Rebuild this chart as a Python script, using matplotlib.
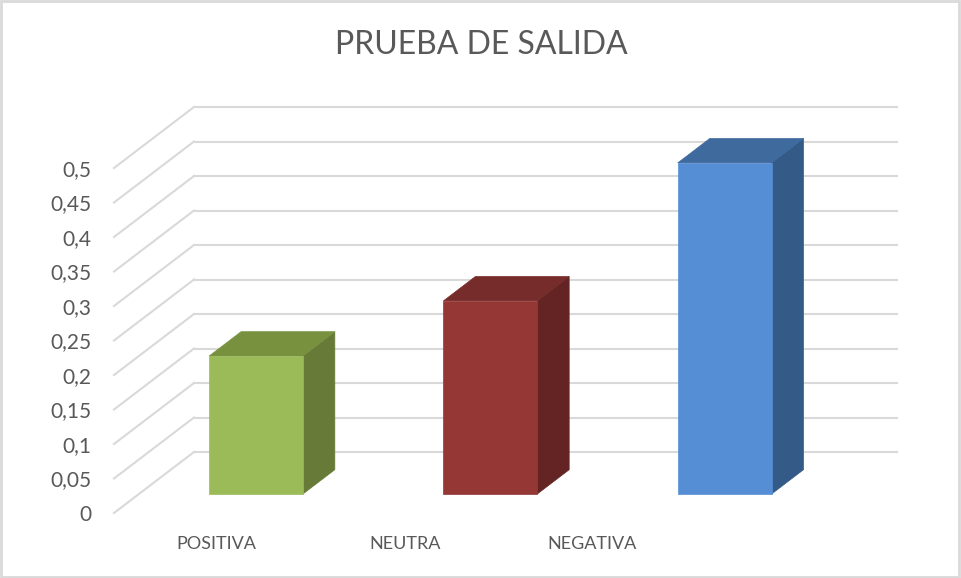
import matplotlib
matplotlib.use("Agg")
import matplotlib.pyplot as plt
from matplotlib.transforms import ScaledTranslation
from matplotlib.patches import Polygon, Rectangle

plt.rcParams['font.family'] = ['Lato', 'DejaVu Sans']

# datos
categorias = ["POSITIVA", "NEUTRA", "NEGATIVA"]
valores = [0.2, 0.28, 0.48]
ticks = [0, 0.05, 0.1, 0.15, 0.2, 0.25, 0.3, 0.35, 0.4, 0.45, 0.5]
tick_labels = ["0", "0,05", "0,1", "0,15", "0,2", "0,25", "0,3", "0,35", "0,4", "0,45", "0,5"]

# colores (frente, arriba, lado)
colores = [
    ("#9BBB59", "#77913F", "#677A37"),
    ("#953735", "#762C2A", "#632423"),
    ("#558ED5", "#3F6A9E", "#345A88"),
]
grid_color = "#D9D9D9"
text_color = "#595959"

W, H, DPI = 961, 578, 100
fig = plt.figure(figsize=(W / DPI, H / DPI), dpi=DPI)

# plano frontal del piso (pixeles)
x0, x1 = 114, 817
y0, y1 = 513, 168
ax = fig.add_axes([x0 / W, (H - y0) / H, (x1 - x0) / W, (y0 - y1) / H])
ax.set_xlim(-0.5, 2.5)
ax.set_ylim(0, 0.5)
ax.set_frame_on(False)

# profundidad total del grafico (pulgadas)
DX, DY = 80 / DPI, 61 / DPI


def depth(f):
    return ax.transData + ScaledTranslation(DX * f, DY * f, fig.dpi_scale_trans)


# lineas de cuadricula: pared lateral + pared del fondo
for t in ticks:
    # linea diagonal (pared lateral)
    p_front = ax.transData.transform((-0.5, t))
    p_back = depth(1.0).transform((-0.5, t))
    fig.add_artist(plt.Line2D([p_front[0] / W, p_back[0] / W], [p_front[1] / H, p_back[1] / H],
                              color=grid_color, lw=1.5))
    ax.plot([-0.5, 2.5], [t, t], color=grid_color, lw=1.5, clip_on=False,
            transform=depth(1.0))

# barras 3D
ancho = 0.4
f0, f1 = 0.31, 0.71
for i, v in enumerate(valores):
    frente, arriba, lado = colores[i]
    xl, xr = i - ancho / 2, i + ancho / 2
    # lado derecho
    pr0 = depth(f0).transform([(xr, 0), (xr, v)])
    pr1 = depth(f1).transform([(xr, v), (xr, 0)])
    pts = [fig.transFigure.inverted().transform(p) for p in list(pr0) + list(pr1)]
    fig.add_artist(Polygon(pts, closed=True, facecolor=lado, edgecolor=lado, lw=0.5))
    # tapa superior
    pt0 = depth(f0).transform([(xl, v), (xr, v)])
    pt1 = depth(f1).transform([(xr, v), (xl, v)])
    pts = [fig.transFigure.inverted().transform(p) for p in list(pt0) + list(pt1)]
    fig.add_artist(Polygon(pts, closed=True, facecolor=arriba, edgecolor=arriba, lw=0.5))
    # cara frontal
    fig.add_artist(Rectangle((xl, 0), ancho, v, transform=depth(f0),
                             facecolor=frente, edgecolor=frente, lw=0.5))

# eje y
ax.set_yticks(ticks)
ax.set_yticklabels(tick_labels)
ax.set_xticks([])
ax.tick_params(axis='y', length=0, pad=16, labelsize=15, labelcolor=text_color)

# etiquetas de categorias (Excel las desplaza hacia la izquierda)
label_x = [-0.065, 0.74, 1.54]
for lx, c in zip(label_x, categorias):
    ax.text(lx, -0.045, c, ha='center', va='center', fontsize=13, color=text_color)

fig.text(481.5 / W, 1 - 45 / H, "PRUEBA DE SALIDA", ha='center', va='center',
         fontsize=23, color=text_color)

# borde del grafico
fig.add_artist(Rectangle((0.001, 0.002), 0.997, 0.996, transform=fig.transFigure,
                         fill=False, edgecolor="#D9D9D9", lw=2))

fig.savefig("out.png", dpi=DPI)
